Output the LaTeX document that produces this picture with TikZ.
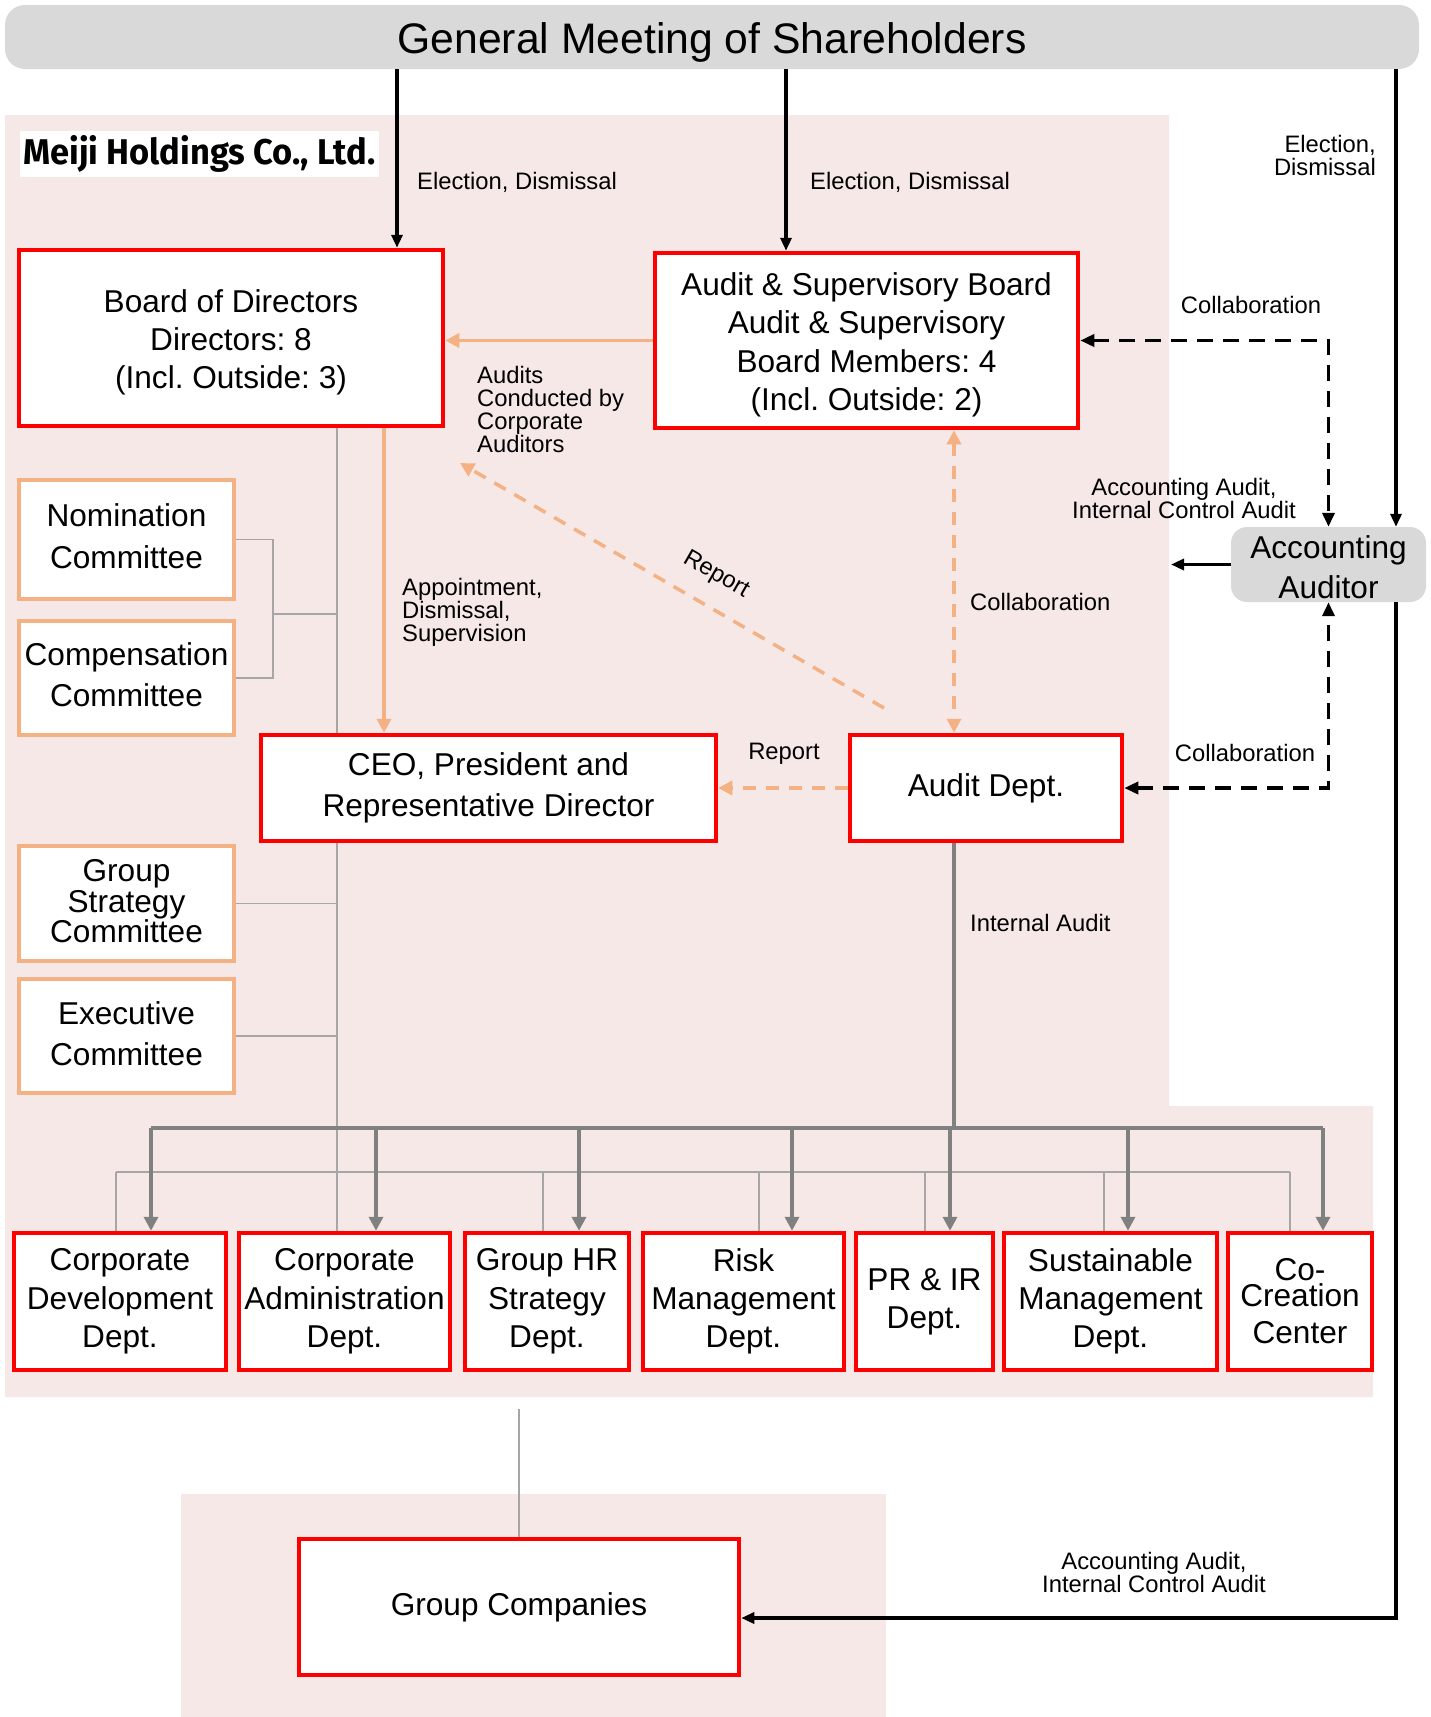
\documentclass[tikz,border=0pt]{standalone}
\usepackage{fontspec}
\setmainfont{Liberation Sans}
\newfontfamily\meijifont{Fira Sans}
\usetikzlibrary{arrows.meta,calc}
\definecolor{pinkbg}{RGB}{246,232,231}
\definecolor{barg}{RGB}{217,217,217}
\definecolor{orng}{RGB}{244,177,131}
\definecolor{redb}{RGB}{255,0,0}
\definecolor{gthick}{RGB}{128,128,128}
\definecolor{gthin}{RGB}{166,166,166}
\pgfdeclarelayer{back}
\pgfdeclarelayer{lines}
\pgfsetlayers{back,lines,main}
\frenchspacing
\begin{document}
\begin{tikzpicture}[x=1pt,y=-1pt,
  redbox/.style={draw=redb, line width=4.5pt, fill=white, inner sep=0pt, align=center, font=\fontsize{31.6}{38.3}\selectfont},
  orgbox/.style={draw=orng, line width=4.5pt, fill=white, inner sep=0pt, minimum width=215pt},
  boxtext/.style={inner sep=0pt, align=center, font=\fontsize{31.6}{38.3}\selectfont},
  lbl/.style={inner sep=0pt, align=left, font=\fontsize{23.8}{23}\selectfont},
  blktip/.style={-{Triangle[length=13pt,width=11pt]}},
  blk/.style={draw=black, line width=3.5pt, blktip},
  blkdash/.style={draw=black, line width=3.5pt, dash pattern=on 16pt off 10pt, {Triangle[length=14pt,width=12pt]}-{Triangle[length=14pt,width=12pt]}},
  orarr/.style={draw=orng, line width=3.5pt, -{Triangle[length=14pt,width=14pt]}},
  ordash/.style={draw=orng, line width=3.5pt, dash pattern=on 13pt off 10pt},
  busline/.style={draw=gthick, line width=4.5pt},
  busarr/.style={draw=gthick, line width=4.5pt, -{Triangle[length=14pt,width=14pt]}},
  thinline/.style={draw=gthin, line width=1.5pt}
]
\useasboundingbox (0,0) rectangle (1431,1717);
\begin{pgfonlayer}{back}
\fill[white] (0,0) rectangle (1431,1717);
\fill[pinkbg] (5,115) -- (1169,115) -- (1169,1106) -- (1373,1106) -- (1373,1397) -- (5,1397) -- cycle;
\fill[pinkbg] (181,1494) rectangle (886,1717);
\end{pgfonlayer}

% top bar
\node[fill=barg, rounded corners=20pt, minimum width=1414pt, minimum height=64pt, inner sep=0pt] (gm) at (712,37) {};
\node[inner sep=0pt, font=\fontsize{42.7}{50}\selectfont] (gmt) at (712,42.5) {General Meeting of Shareholders};

% company label
\node[fill=white, minimum width=359pt, minimum height=46pt, inner sep=0pt] (meiji) at (199.5,154)
  {\resizebox{352pt}{29pt}{\meijifont\bfseries Meiji Holdings Co., Ltd.}};

% main boxes
\node[redbox, minimum width=424pt, minimum height=176pt] (board) at (231,338) {};
\node[boxtext] (boardt) at (231,342.4) {Board of Directors\\Directors: 8\\(Incl. Outside: 3)};
\node[redbox, minimum width=423pt, minimum height=175pt] (asb) at (866.5,340.5) {};
\node[boxtext] (asbt) at (866.5,344.9) {Audit \& Supervisory Board\\Audit \& Supervisory\\Board Members: 4\\(Incl. Outside: 2)};
\node[orgbox, minimum height=119pt] (nom) at (126.5,539.5) {};
\node[boxtext, font=\fontsize{31.6}{41.6}\selectfont] (nomt) at (126.5,536.2) {Nomination\\Committee};
\node[orgbox, minimum height=114pt] (comp) at (126.5,678) {};
\node[boxtext, font=\fontsize{31.6}{41.6}\selectfont] (compt) at (126.5,674.7) {Compensation\\Committee};
\node[orgbox, minimum height=115pt] (gsc) at (126.5,903.5) {};
\node[boxtext, font=\fontsize{31.6}{30.6}\selectfont] (gsct) at (126.5,901.3) {Group\\Strategy\\Committee};
\node[orgbox, minimum height=114pt] (exec) at (126.5,1036) {};
\node[boxtext, font=\fontsize{31.6}{41.6}\selectfont] (exect) at (126.5,1033.8) {Executive\\Committee};
\node[redbox, minimum width=455pt, minimum height=106pt, font=\fontsize{31.6}{41.6}\selectfont] (ceo) at (488.5,788)
  {CEO, President and\\Representative Director};
\node[redbox, minimum width=272pt, minimum height=106pt] (audit) at (986,788) {Audit Dept.};
\node[fill=barg, rounded corners=16pt, minimum width=195pt, minimum height=75pt, inner sep=0pt] (aa) at (1328.5,564.5) {};
\node[boxtext, font=\fontsize{31.6}{40}\selectfont] (aat) at (1328.5,566.7) {Accounting\\Auditor};

% departments
\node[redbox, minimum width=212pt, minimum height=137pt] (d1) at (120,1301.5) {Corporate\\Development\\Dept.};
\node[redbox, minimum width=211pt, minimum height=137pt] (d2) at (344.5,1301.5) {Corporate\\Administration\\Dept.};
\node[redbox, minimum width=164pt, minimum height=137pt] (d3) at (547,1301.5) {Group HR\\Strategy\\Dept.};
\node[redbox, minimum width=201pt, minimum height=137pt] (d4) at (743.5,1301.5) {Risk\\Management\\Dept.};
\node[redbox, minimum width=137pt, minimum height=137pt] (d5) at (924.5,1301.5) {PR \& IR\\Dept.};
\node[redbox, minimum width=213pt, minimum height=137pt] (d6) at (1110.5,1301.5) {Sustainable\\Management\\Dept.};
\node[redbox, minimum width=144pt, minimum height=137pt, font=\fontsize{31.6}{37}\selectfont] (d7) at (1300,1301.5) {Co-\\[-11pt]Creation\\Center};

\node[redbox, minimum width=440pt, minimum height=136pt] (gc) at (519,1607) {Group Companies};

% helper coordinates
\coordinate (x1) at (397,0);
\coordinate (x2) at (786,0);
\coordinate (x3) at (1396,0);
\coordinate (x4) at (384,0);
\coordinate (x5) at (954,0);
\coordinate (x6) at (337,0);
\coordinate (xb) at (273,0);
\coordinate (ym) at (0,614);
\coordinate (ybus) at (0,1128);
\coordinate (ythin) at (0,1172);
\coordinate (yg) at (0,1618);
\coordinate (aal) at (1171,564.5);
\coordinate (rs) at (884,708);
\coordinate (re) at (460,463);
\coordinate (gcl) at (519,1409);

% thin gray structure lines
\begin{pgfonlayer}{lines}
\draw[thinline] (board.south -| x6) -- (d2.north -| x6);
\draw[thinline] (nom.east) -| (xb |- comp.east) -- (comp.east);
\draw[thinline] (xb |- ym) -- (x6 |- ym);
\draw[thinline] (gsc.east) -- (gsc.east -| x6);
\draw[thinline] (exec.east) -- (exec.east -| x6);
\coordinate (tl) at (116,1172);
\coordinate (tr) at (1290,1172);
\draw[thinline] (tl) -- (tr);
\foreach \xx/\dd in {116/d1, 543/d3, 759/d4, 925/d5, 1104/d6, 1290/d7}{
  \coordinate (tmp) at (\xx,0);
  \draw[thinline] (tmp |- ythin) -- (tmp |- \dd.north);
}
\draw[thinline] (gcl) -- (gc.north);
\end{pgfonlayer}

% black solid arrows
\draw[blk] (gm.south -| x1) -- (board.north -| x1);
\draw[blk] (gm.south -| x2) -- (asb.north -| x2);
\draw[blk] (gm.south -| x3) -- (aa.north -| x3);
\draw[blk] (aa.west) -- (aal);
\draw[blk] (aa.south -| x3) |- (gc.east |- yg);

% black dashed collaboration
\draw[blkdash] (asb.east) -| (aa.north);
\draw[blkdash] (audit.east) -| (aa.south);

% orange arrows
\draw[orarr] (asb.west) -- (asb.west -| board.east);
\draw[orarr] (board.south -| x4) -- (ceo.north -| x4);
\draw[ordash, {Triangle[length=14pt,width=14pt]}-{Triangle[length=14pt,width=14pt]}] (asb.south -| x5) -- (audit.north -| x5);
\draw[ordash, -{Triangle[length=14pt,width=14pt]}] (audit.west) -- (ceo.east);
\draw[ordash, -{Triangle[length=14pt,width=14pt]}] (rs) -- (re);

% internal audit bus
\coordinate (bl) at (151,1128);
\coordinate (br) at (1323,1128);
\draw[busline] (audit.south -| x5) -- (x5 |- ybus);
\draw[busline] (bl) -- (br);
\foreach \xx/\dd in {151/d1, 376/d2, 579/d3, 792/d4, 950/d5, 1128/d6, 1323/d7}{
  \coordinate (tmp) at (\xx,0);
  \draw[busarr] (tmp |- ybus) -- (tmp |- \dd.north);
}

% labels
\node[lbl, anchor=west] (l1) at (417,182) {Election, Dismissal};
\node[lbl, anchor=west] (l2) at (810,182) {Election, Dismissal};
\node[lbl, anchor=east, align=right] (l3) at (1376,155) {Election,\\Dismissal};
\node[lbl] (l4) at (1251,305) {Collaboration};
\node[lbl, anchor=west] (l5) at (477,409.5) {Audits\\Conducted by\\Corporate\\Auditors};
\node[lbl, anchor=west] (l6) at (402,612) {Appointment,\\Dismissal,\\Supervision};
\node[lbl, rotate=-30] (l7) at (716,575) {Report};
\node[lbl, anchor=west] (l8) at (970,602) {Collaboration};
\node[lbl, align=center] (l9) at (1184,498.5) {Accounting Audit,\\Internal Control Audit};
\node[lbl] (l10) at (784,754) {Report};
\node[lbl] (l11) at (1245,753) {Collaboration};
\node[lbl, anchor=west] (l12) at (970,923) {Internal Audit};
\node[lbl, align=center] (l13) at (1154,1572.5) {Accounting Audit,\\Internal Control Audit};
\end{tikzpicture}
\end{document}
